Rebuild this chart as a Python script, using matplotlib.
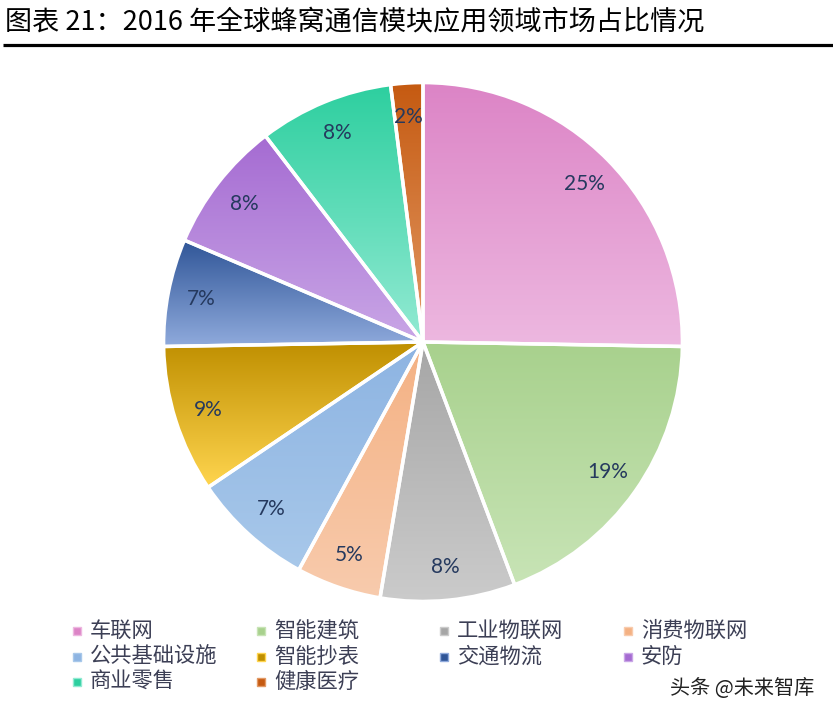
import matplotlib
matplotlib.use('Agg')
import matplotlib.pyplot as plt
import numpy as np
from matplotlib.colors import LinearSegmentedColormap

plt.rcParams['font.family'] = ['Noto Sans CJK SC', 'DejaVu Sans']

# data (shares in %, clockwise from 12 o'clock)
segments = ['车联网', '智能建筑', '工业物联网', '消费物联网', '公共基础设施',
            '智能抄表', '交通物流', '安防', '商业零售', '健康医疗']
shares = [25.3, 19.0, 8.4, 5.3, 7.6, 9.2, 6.7, 8.2, 8.4, 2.0]
share_labels = ['25%', '19%', '8%', '5%', '7%', '9%', '7%', '8%', '8%', '2%']
title = '图表 21：2016 年全球蜂窝通信模块应用领域市场占比情况'
source = '头条 @未来智库'

# (top, bottom) colours of each wedge's vertical gradient
grads = [('#DC84C6', '#EDB8E0'), ('#A8D18D', '#C8E4B6'), ('#A6A6A6', '#CBCBCB'),
         ('#F4B183', '#F8CBAD'), ('#8DB4E2', '#A8C8EA'), ('#BF8F00', '#FFD54F'),
         ('#2F5597', '#8FAADC'), ('#A56BD2', '#C9A6E6'), ('#2DCF9F', '#93EAD3'),
         ('#C55A11', '#E39A66')]

W, H = 833, 717
fig = plt.figure(figsize=(W / 100, H / 100), dpi=100)

# pie axes: centre (423, 342), radius 262 px
cx, cy, r = 423, 342, 262
ax = fig.add_axes([(cx - r) / W, (H - cy - r) / H, 2 * r / W, 2 * r / H])
labels_it = iter(share_labels)
wedges, texts, autotexts = ax.pie(
    shares, startangle=90, counterclock=False, radius=1,
    autopct=lambda p: next(labels_it), pctdistance=0.87,
    wedgeprops=dict(edgecolor='white', linewidth=2.5, facecolor='none'),
    textprops=dict(color='#25395E', fontsize=15, family=['Lato', 'DejaVu Sans']))

ramp = np.linspace(0, 1, 256).reshape(-1, 1)
for w, (top, bottom) in zip(wedges, grads):
    ext = w.get_path().get_extents()
    cmap = LinearSegmentedColormap.from_list('g', [bottom, top])
    im = ax.imshow(ramp, cmap=cmap, origin='lower', aspect='auto',
                   extent=(ext.x0, ext.x1, ext.y0, ext.y1), zorder=0.5)
    im.set_clip_path(w)
    w.set_zorder(1)
for t in autotexts:
    t.set_zorder(3)
ax.set_xlim(-1.01, 1.01)
ax.set_ylim(-1.01, 1.01)
ax.set_aspect('equal')
ax.axis('off')

# overlay in pixel coordinates for title, legend and source
ov = fig.add_axes([0, 0, 1, 1], zorder=5)
ov.set_xlim(0, W)
ov.set_ylim(H, 0)
ov.axis('off')
ov.patch.set_alpha(0)

ov.text(5, 22, title, fontsize=19.5, va='center', ha='left', color='black')
ov.plot([3, W], [45, 45], color='black', lw=2.3, solid_capstyle='butt')

col_x = [77, 261, 444, 628]
row_y = [631, 657, 682]
for i, name in enumerate(segments):
    row, col = divmod(i, 4)
    top, bottom = grads[i]
    ov.plot(col_x[col], row_y[row], marker='s', markersize=6,
            color=top, markeredgecolor=bottom, markeredgewidth=1)
    ov.text(col_x[col] + 13, row_y[row], name, fontsize=15.3,
            va='center', ha='left', color='#3C3F55')

ov.text(814, 688, source, fontsize=14.5, va='center', ha='right', color='#222222')

fig.savefig('out.png', dpi=100)
